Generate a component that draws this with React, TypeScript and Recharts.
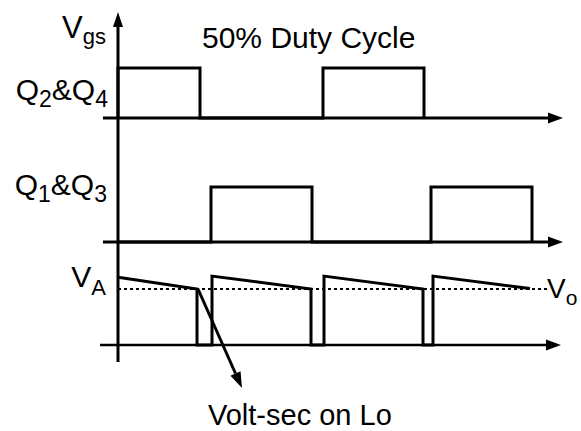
import React from 'react';
import { ComposedChart, Line, XAxis, YAxis, ReferenceLine } from 'recharts';

// ---------- data (time in arbitrary units, levels normalised) ----------
const q24Time = [0, 0, 8.2, 8.2, 20.5, 20.5, 30.6, 30.6];
const q24Level = [0, 1, 1, 0, 0, 1, 1, 0];

const q13Time = [0, 9.3, 9.3, 19.4, 19.4, 31.3, 31.3, 41.4, 41.4];
const q13Level = [0, 0, 1, 1, 0, 0, 1, 1, 0];

const vaTime = [0, 7.9, 7.9, 9.4, 9.4, 19.3, 19.3, 20.6, 20.6, 30.5, 30.5, 31.5, 31.5, 41.2];
const vaLevel = [1.21, 1.0, 0, 0, 1.23, 1.0, 0, 0, 1.23, 1.0, 0, 0, 1.23, 1.01];

const voLevel = 1.0;
const voEnd = 42.9;
const voltSecStart = { t: 8.0, v: 1.0 };
const voltSecEnd = { t: 12.4, v: -0.77 };

const labels = {
  title: '50% Duty Cycle',
  vgs: ['V', 'gs'],
  q24: ['Q', '2', '&Q', '4'],
  q13: ['Q', '1', '&Q', '3'],
  va: ['V', 'A'],
  vo: ['V', 'o'],
  note: 'Volt-sec on Lo',
};

const zip = (t: number[], v: number[]) => t.map((x, i) => ({ t: x, v: v[i] }));
const q24Data = zip(q24Time, q24Level);
const q13Data = zip(q13Time, q13Level);
const vaData = zip(vaTime, vaLevel);

// ---------- layout ----------
const W = 581;
const H = 431;
const MARGIN = { top: 12, right: 16, bottom: 66, left: 100 };
const TOP = MARGIN.top;
const BOTTOM = H - MARGIN.bottom;
const X_DOMAIN: [number, number] = [-1.8, 44.7];

// domain so that value 0 sits at basePx and 1 unit = unitPx pixels
const panelDomain = (basePx: number, unitPx: number): [number, number] => [
  (basePx - BOTTOM) / unitPx,
  (basePx - TOP) / unitPx,
];
const D24 = panelDomain(118, 50);
const D13 = panelDomain(242, 55);
const DVA = panelDomain(345, 56);

const FONT = '"Liberation Sans", Arial, Helvetica, sans-serif';

const arrow = (atEnd: boolean, sw: number, len = 15, half = 5.5, dash?: string) => (p: any) => {
  const { x1, y1, x2, y2 } = p;
  const [tx, ty, fx, fy] = atEnd ? [x2, y2, x1, y1] : [x1, y1, x2, y2];
  const dx = tx - fx;
  const dy = ty - fy;
  const L = Math.sqrt(dx * dx + dy * dy) || 1;
  const ux = dx / L;
  const uy = dy / L;
  const bx = tx - ux * len;
  const by = ty - uy * len;
  const pts = `${tx},${ty} ${bx - uy * half},${by + ux * half} ${bx + uy * half},${by - ux * half}`;
  const lx1 = atEnd ? x1 : bx;
  const ly1 = atEnd ? y1 : by;
  const lx2 = atEnd ? bx : x2;
  const ly2 = atEnd ? by : y2;
  return (
    <g>
      <line x1={lx1} y1={ly1} x2={lx2} y2={ly2} stroke="#000" strokeWidth={sw} strokeDasharray={dash} />
      <polygon points={pts} fill="#000" />
    </g>
  );
};

const Sub = ({ x, y, parts, size, sub, anchor }: any) => (
  <text x={x} y={y} fontSize={size} textAnchor={anchor}>
    {parts.map((s: string, i: number) =>
      i % 2 === 0 ? (
        <tspan key={i} dy={i === 0 ? 0 : -sub.dy} fontSize={size}>{s}</tspan>
      ) : (
        <tspan key={i} dy={sub.dy} fontSize={sub.size}>{s}</tspan>
      )
    )}
  </text>
);

export default function App() {
  return (
    <div style={{ position: 'absolute', left: 0, top: 0, width: W, height: H, background: '#fff' }}>
      <ComposedChart width={W} height={H} margin={MARGIN}>
        <XAxis type="number" dataKey="t" domain={X_DOMAIN} allowDataOverflow hide />
        <YAxis yAxisId="q24" type="number" domain={D24} allowDataOverflow hide />
        <YAxis yAxisId="q13" type="number" domain={D13} allowDataOverflow hide />
        <YAxis yAxisId="va" type="number" domain={DVA} allowDataOverflow hide />

        {/* vertical axis with arrow */}
        <ReferenceLine
          yAxisId="q24"
          segment={[{ x: 0, y: -4.88 }, { x: 0, y: D24[1] }]}
          ifOverflow="visible"
          shape={arrow(true, 3, 15, 5)}
        />
        {/* baselines with arrows */}
        <ReferenceLine yAxisId="q24" segment={[{ x: -1.5, y: 0 }, { x: 44.5, y: 0 }]} ifOverflow="visible" shape={arrow(true, 3)} />
        <ReferenceLine yAxisId="q13" segment={[{ x: -1.5, y: 0 }, { x: 44.5, y: 0 }]} ifOverflow="visible" shape={arrow(true, 3)} />
        <ReferenceLine yAxisId="va" segment={[{ x: -1.8, y: 0 }, { x: 44.3, y: 0 }]} ifOverflow="visible" shape={arrow(true, 2.5)} />

        {/* Vo dotted level */}
        <ReferenceLine
          yAxisId="va"
          segment={[{ x: 0, y: voLevel }, { x: voEnd, y: voLevel }]}
          ifOverflow="visible"
          stroke="#000"
          strokeWidth={2}
          strokeDasharray="3 3"
        />

        <Line yAxisId="q24" data={q24Data} dataKey="v" type="linear" stroke="#000" strokeWidth={3} dot={false} isAnimationActive={false} strokeLinejoin="miter" />
        <Line yAxisId="q13" data={q13Data} dataKey="v" type="linear" stroke="#000" strokeWidth={3} dot={false} isAnimationActive={false} strokeLinejoin="miter" />
        <Line yAxisId="va" data={vaData} dataKey="v" type="linear" stroke="#000" strokeWidth={3} dot={false} isAnimationActive={false} strokeLinejoin="miter" />

        {/* Volt-sec annotation arrow */}
        <ReferenceLine
          yAxisId="va"
          segment={[{ x: voltSecStart.t, y: voltSecStart.v }, { x: voltSecEnd.t, y: voltSecEnd.v }]}
          ifOverflow="visible"
          shape={arrow(true, 3, 16, 5.5)}
        />
      </ComposedChart>

      <svg
        width={W}
        height={H}
        style={{ position: 'absolute', left: 0, top: 0, pointerEvents: 'none' }}
        fontFamily={FONT}
        fill="#000"
      >
        <text x={202} y={48} fontSize={30}>{labels.title}</text>
        <Sub x={106} y={38} parts={labels.vgs} size={31} sub={{ size: 22, dy: 6 }} anchor="end" />
        <Sub x={108} y={100} parts={labels.q24} size={30} sub={{ size: 23, dy: 7 }} anchor="end" />
        <Sub x={107} y={195} parts={labels.q13} size={30} sub={{ size: 23, dy: 7 }} anchor="end" />
        <Sub x={106} y={287} parts={labels.va} size={30} sub={{ size: 22, dy: 8 }} anchor="end" />
        <Sub x={547} y={298} parts={labels.vo} size={28} sub={{ size: 21, dy: 7 }} anchor="start" />
        <text x={208} y={425} fontSize={29}>{labels.note}</text>
      </svg>
    </div>
  );
}
